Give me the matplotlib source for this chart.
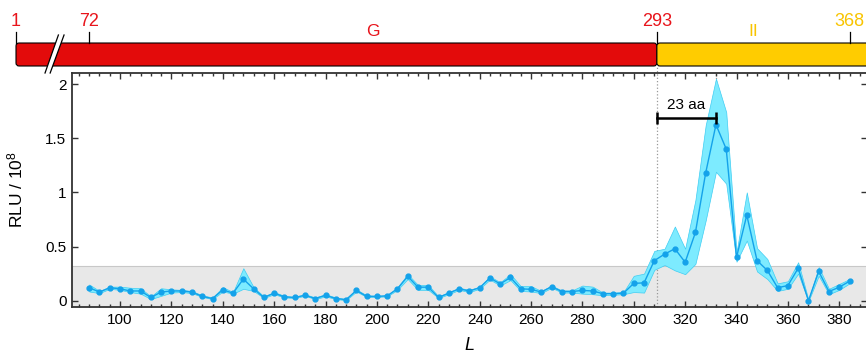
import matplotlib.pyplot as plt
from matplotlib.patches import FancyBboxPatch, Polygon

plt.rcParams['font.family'] = ['Liberation Sans', 'DejaVu Sans']
plt.rcParams['mathtext.fontset'] = 'custom'
plt.rcParams['mathtext.rm'] = 'Liberation Sans'
plt.rcParams['mathtext.it'] = 'Liberation Sans:italic'

# linker length L and luminescence (RLU / 1e8), mean with band
L = [88, 92, 96, 100, 104, 108, 112, 116, 120, 124, 128, 132, 136, 140, 144,
     148, 152, 156, 160, 164, 168, 172, 176, 180, 184, 188, 192, 196, 200, 204,
     208, 212, 216, 220, 224, 228, 232, 236, 240, 244, 248, 252, 256, 260, 264,
     268, 272, 276, 280, 284, 288, 292, 296, 300, 304, 308, 312, 316, 320, 324,
     328, 332, 336, 340, 344, 348, 352, 356, 360, 364, 368, 372, 376, 380, 384]
rlu = [0.12, 0.08, 0.12, 0.11, 0.09, 0.09, 0.03, 0.08, 0.09, 0.09, 0.08, 0.04, 0.02, 0.10, 0.07,
       0.20, 0.11, 0.03, 0.07, 0.035, 0.03, 0.05, 0.02, 0.05, 0.02, 0.01, 0.095, 0.04, 0.04, 0.045,
       0.11, 0.225, 0.125, 0.125, 0.03, 0.07, 0.11, 0.09, 0.12, 0.21, 0.155, 0.215, 0.11, 0.105, 0.08,
       0.13, 0.085, 0.085, 0.095, 0.09, 0.065, 0.065, 0.07, 0.16, 0.165, 0.37, 0.43, 0.48, 0.355, 0.63,
       1.18, 1.625, 1.40, 0.40, 0.79, 0.37, 0.28, 0.12, 0.14, 0.30, 0.0, 0.27, 0.085, 0.125, 0.18]
rlu_hi = [0.15, 0.09, 0.13, 0.13, 0.12, 0.115, 0.04, 0.115, 0.105, 0.10, 0.09, 0.05, 0.03, 0.125, 0.08,
          0.30, 0.125, 0.04, 0.08, 0.045, 0.035, 0.06, 0.03, 0.06, 0.03, 0.015, 0.105, 0.05, 0.045, 0.05,
          0.125, 0.245, 0.145, 0.145, 0.04, 0.08, 0.12, 0.10, 0.13, 0.225, 0.17, 0.245, 0.135, 0.135, 0.09,
          0.14, 0.095, 0.095, 0.14, 0.13, 0.075, 0.075, 0.08, 0.23, 0.25, 0.46, 0.48, 0.685, 0.48, 0.93,
          1.62, 2.05, 1.74, 0.45, 1.0, 0.485, 0.385, 0.16, 0.18, 0.355, 0.01, 0.31, 0.11, 0.155, 0.20]
rlu_lo = [0.085, 0.07, 0.11, 0.10, 0.08, 0.065, 0.015, 0.045, 0.075, 0.08, 0.07, 0.035, 0.015, 0.085, 0.065,
          0.11, 0.09, 0.025, 0.06, 0.03, 0.025, 0.045, 0.015, 0.04, 0.015, 0.005, 0.085, 0.035, 0.035, 0.04,
          0.10, 0.20, 0.10, 0.10, 0.025, 0.06, 0.10, 0.08, 0.11, 0.195, 0.14, 0.19, 0.09, 0.085, 0.07,
          0.12, 0.075, 0.075, 0.065, 0.06, 0.05, 0.055, 0.06, 0.08, 0.075, 0.285, 0.33, 0.28, 0.245, 0.34,
          0.74, 1.19, 1.08, 0.36, 0.555, 0.27, 0.20, 0.09, 0.11, 0.25, -0.005, 0.23, 0.06, 0.10, 0.16]

bg_level = 0.32     # background luminescence
hinge = 309         # L at domain boundary (residue 293)
span = 23           # aa from boundary to peak

# domain bar above the plot
offset = 16         # residue number -> L
dom_names = ['G', 'II']
dom_start = [1, 293]
dom_end = [293, 390]
dom_colors = ['#e30b0b', '#ffcc00']
dom_text = ['#e8141b', '#f8c400']
dom_label_from = [72, 293]
dom_label_to = [293, 368]
sites = [1, 72, 293, 368]
site_colors = ['#e8141b', '#e8141b', '#e8141b', '#f8c400']
break_x = 59.5      # residue 1 drawn here (axis is broken)

W, H = 866, 354
fig = plt.figure(figsize=(W / 100, H / 100), dpi=100)
ax = fig.add_axes([72 / W, (H - 307) / H, (867 - 72) / W, (307 - 73) / H])
bar = fig.add_axes([72 / W, (H - 73) / H, (867 - 72) / W, 73 / H], sharex=ax)

ax.set_xlim(81.3, 390.8)
ax.set_ylim(-0.058, 2.102)

ax.axhspan(-0.1, bg_level, color='#e8e8e8', zorder=0, lw=0)
ax.axhline(bg_level, color='#c8c8c8', lw=0.8, zorder=0.5)
ax.plot([hinge, hinge], [-0.058, 2.17], ls=':', color='#999999', lw=0.9, zorder=1, clip_on=False)
ax.plot([hinge + span] * 2, [max(rlu), 2.102], ls=':', color='#999999', lw=0.9, zorder=1)

ax.fill_between(L, rlu_lo, rlu_hi, facecolor='#7debff', edgecolor='#3fcdf2', lw=0.5, zorder=2)
ax.plot(L, rlu, '-o', color='#14a2ea', lw=1, ms=3.5, zorder=3)

ax.plot([hinge, hinge + span], [1.69, 1.69], color='k', lw=1.8, marker='|', ms=9, mew=1.8, zorder=4)
ax.text(hinge + span / 2, 1.81, f'{span} aa', ha='center', va='center', fontsize=11)

ax.set_xticks(range(100, 381, 20))
ax.set_xticks(range(84, 390, 4), minor=True)
ax.set_yticks([0, 0.5, 1, 1.5, 2])
ax.set_yticklabels(['0', '0.5', '1', '1.5', '2'])
ax.tick_params(which='both', direction='in', top=True, right=True, labelsize=11,
               color='#333333', width=1)
ax.tick_params(which='major', length=4.5, pad=4)
ax.tick_params(which='minor', length=2.5)
for s in ax.spines.values():
    s.set_linewidth(1.3)
    s.set_color('#333333')

ax.set_ylabel('RLU / 10$^8$', fontsize=12.5)
ax.yaxis.set_label_coords(-0.058, 0.5)
ax.set_xlabel('L', fontsize=13, style='italic')
ax.xaxis.set_label_coords(0.5, -0.13)

# domain bar
bar.set_ylim(73, 0)
bar.axis('off')
for name, a, b, fc, tc, la, lb in zip(dom_names, dom_start, dom_end, dom_colors,
                                      dom_text, dom_label_from, dom_label_to):
    x0 = break_x if a == 1 else a + offset
    box = FancyBboxPatch((x0, 43), b + offset - x0, 23,
                         boxstyle='round,pad=0,rounding_size=1.2', mutation_aspect=2.5,
                         fc=fc, ec='k', lw=0.8, clip_on=False)
    bar.add_patch(box)
    bar.text((la + lb) / 2 + offset, 31.5, name, color=tc, fontsize=12.5,
             ha='center', va='center')

for p, c in zip(sites, site_colors):
    x = break_x if p == 1 else p + offset
    bar.plot([x, x], [43, 32], color='k', lw=0.9, clip_on=False)
    bar.text(x, 21, str(p), color=c, fontsize=13, ha='center', va='center')

# break marks
gap = Polygon([(76.0, 35), (78.2, 35), (72.8, 73), (70.8, 73)], closed=True,
              fc='white', ec='none', clip_on=False, zorder=5)
bar.add_patch(gap)
bar.plot([76.0, 70.8], [35, 73], color='k', lw=0.9, clip_on=False, zorder=6)
bar.plot([78.2, 72.8], [35, 73], color='k', lw=0.9, clip_on=False, zorder=6)

fig.savefig('out.png', dpi=100)
